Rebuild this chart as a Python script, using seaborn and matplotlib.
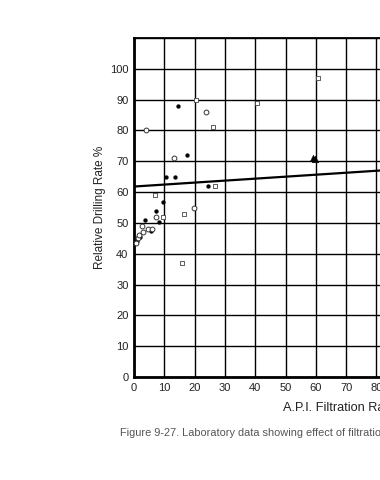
import matplotlib
matplotlib.use("Agg")
import matplotlib.pyplot as plt
import seaborn as sns
import pandas as pd

# data
dot_x = [14.4, 17.6, 10.7, 13.6, 24.3, 9.5, 7.3, 8.4, 3.6, 2.0, 1.0, 5.5]
dot_y = [88.0, 72.0, 65.0, 65.0, 62.0, 56.7, 54.0, 50.2, 51.0, 45.5, 44.0, 47.5]
circ_x = [3.9, 23.7, 13.2, 19.7, 2.5, 3.1, 4.7, 6.0, 1.4, 0.5, 7.4, 1.8]
circ_y = [80.0, 86.0, 71.0, 55.0, 49.0, 47.2, 48.0, 48.0, 45.0, 43.5, 52.0, 46.0]
sq_x = [20.5, 26.2, 40.5, 60.6, 26.8, 6.8, 16.6, 15.9, 9.5]
sq_y = [90.0, 81.0, 89.0, 97.0, 62.0, 59.0, 53.0, 37.0, 52.0]
tri_x = [59.0, 59.6]
tri_y = [71.0, 70.6]
fit_x = [0, 100]
fit_y = [61.8, 68.2]
xticks = [0, 10, 20, 30, 40, 50, 60, 70, 80, 90, 100]
yticks = [0, 10, 20, 30, 40, 50, 60, 70, 80, 90, 100]

sns.set_style("white")
plt.rcParams['font.family'] = ['Liberation Sans', 'DejaVu Sans']

fig = plt.figure(figsize=(3.8, 4.8), dpi=100)
ax = fig.add_axes([134/380, (480-377)/480, 303/380, (377-38)/480])

sns.lineplot(x=fit_x, y=fit_y, ax=ax, color='black', linewidth=1.6, zorder=4)
sns.scatterplot(x=dot_x, y=dot_y, ax=ax, marker='o', s=8, color='black',
                edgecolor='black', zorder=5)
sns.scatterplot(x=circ_x, y=circ_y, ax=ax, marker='o', s=12, facecolor='white',
                edgecolor='#333333', linewidth=0.7, zorder=5)
sns.scatterplot(x=sq_x, y=sq_y, ax=ax, marker='s', s=9, facecolor='white',
                edgecolor='#444444', linewidth=0.6, zorder=5)
sns.scatterplot(x=tri_x, y=tri_y, ax=ax, marker='^', s=22, color='black',
                edgecolor='black', zorder=5)

ax.set_xlim(0, 100)
ax.set_ylim(0, 110)
ax.set_xticks(xticks)
ax.set_yticks(yticks + [110])
ax.set_yticklabels([str(v) for v in yticks] + [''])
ax.grid(True, color='black', linewidth=1.0)
ax.set_axisbelow(True)
for side in ['left', 'bottom']:
    ax.spines[side].set_linewidth(2.0)
    ax.spines[side].set_color('black')
for side in ['top', 'right']:
    ax.spines[side].set_linewidth(1.3)
    ax.spines[side].set_color('black')
ax.tick_params(axis='both', length=0, labelsize=8, pad=4, colors='#222222')

ax.set_ylabel("Relative Drilling Rate %", fontsize=8.5, color='#222222')
ax.yaxis.set_label_coords(-0.092, 0.5)
ax.set_xlabel("A.P.I. Filtration Rate, cc/30 min", fontsize=9.2, color='#222222')
ax.xaxis.label.set_ha('left')
ax.xaxis.set_label_coords((283-134)/303, -0.071)

fig.text(120/380, 1-433/480,
         "Figure 9-27. Laboratory data showing effect of filtration rate on drilling rate",
         fontsize=7.9, color='#555555', va='center', ha='left')

fig.savefig("out.png", dpi=100)
